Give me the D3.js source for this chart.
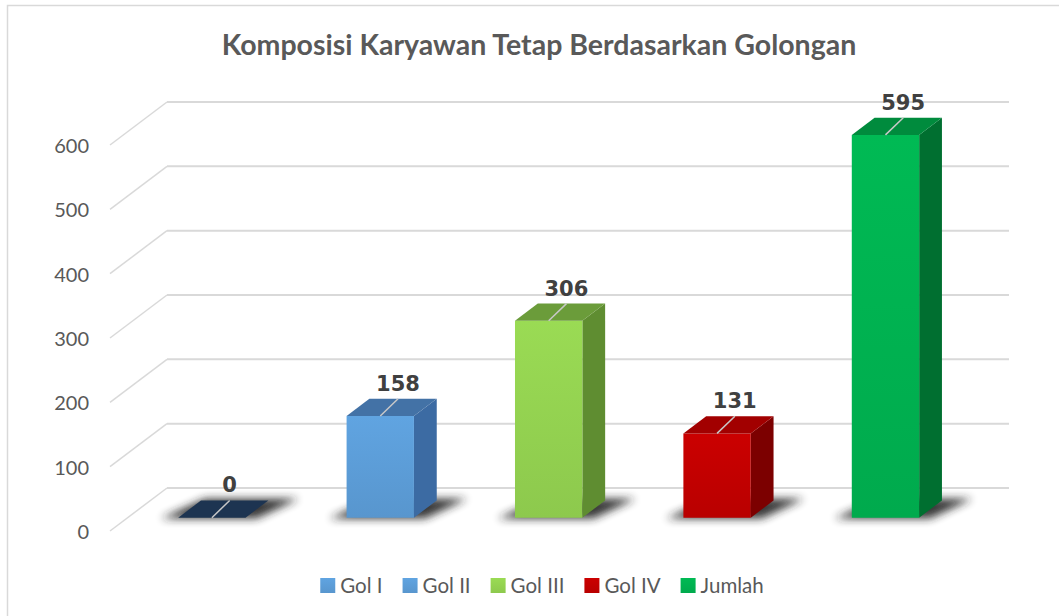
<!DOCTYPE html>
<html>
<head>
<meta charset="utf-8">
<script src="https://cdn.jsdelivr.net/npm/d3@7"></script>
<style>
  body { margin: 0; background: #fff; }
  svg { display: block; }
</style>
</head>
<body>
<svg id="chart" width="1059" height="616"></svg>
<script>
const categories = ['Gol I', 'Gol II', 'Gol III', 'Gol IV', 'Jumlah'];
const values = [0, 158, 306, 131, 595];
const yTicks = [0, 100, 200, 300, 400, 500, 600];
const frontColors = ['#5b9bd5', '#5b9bd5', '#92d050', '#c00000', '#00b050'];
const topColors = ['#1d3451', '#4372a6', '#6b9c3a', '#a20000', '#008b3d'];
const sideColors = ['#172b45', '#3c6ba3', '#5f8d31', '#7c0000', '#006f30'];
const titleText = 'Komposisi Karyawan Tetap Berdasarkan Golongan';

const svg = d3.select('#chart');

// oblique 3D: depth 0 = front plane, 1 = back wall
const depth = { dx: 57, dy: -43 };
const barZ = [0.31, 0.71];

const x = d3.scaleBand()
  .domain(categories)
  .range([110, 952])
  .paddingInner(0.6)
  .paddingOuter(0.3);
const y = d3.scaleLinear().domain([0, 600]).range([531, 145]);

const pt = (px, v, z) => [px + z * depth.dx, y(v) + z * depth.dy];
const poly = pts => pts.map(p => p.join(',')).join(' ');

const defs = svg.append('defs');
defs.append('filter').attr('id', 'blur').attr('x', '-30%').attr('y', '-100%')
  .attr('width', '160%').attr('height', '300%')
  .append('feGaussianBlur').attr('stdDeviation', 4);
frontColors.forEach((c, i) => {
  const g = defs.append('linearGradient').attr('id', 'front' + i)
    .attr('x1', 0).attr('y1', 0).attr('x2', 0).attr('y2', 1);
  g.append('stop').attr('offset', 0).attr('stop-color', d3.color(c).brighter(0.15));
  g.append('stop').attr('offset', 1).attr('stop-color', d3.color(c).darker(0.1));
});

// chart border
svg.append('rect')
  .attr('x', 7.5).attr('y', 5.5).attr('width', 1070).attr('height', 640)
  .attr('fill', '#fff').attr('stroke', '#d9d9d9').attr('stroke-width', 1.5);

// title
svg.append('text')
  .attr('x', 539).attr('y', 55)
  .attr('text-anchor', 'middle')
  .attr('font-family', 'Lato, sans-serif')
  .attr('font-weight', 'bold')
  .attr('font-size', 28.5)
  .attr('fill', '#595959')
  .text(titleText);

// gridlines: back wall + side wall
const [x0r, x1r] = x.range();
const grid = svg.append('g').attr('stroke', '#d9d9d9').attr('fill', 'none');
yTicks.forEach(v => {
  const a = pt(x0r, v, 0), b = pt(x0r, v, 1), c = pt(x1r, v, 1);
  grid.append('line').attr('x1', a[0]).attr('y1', a[1]).attr('x2', b[0]).attr('y2', b[1])
    .attr('stroke-width', 1.5);
  grid.append('line').attr('x1', b[0]).attr('y1', b[1]).attr('x2', c[0]).attr('y2', c[1])
    .attr('stroke-width', 2);
});

// y axis labels
svg.append('g')
  .selectAll('text')
  .data(yTicks)
  .join('text')
  .attr('x', 89)
  .attr('y', d => y(d) + 8)
  .attr('text-anchor', 'end')
  .attr('font-family', 'Lato, sans-serif')
  .attr('font-size', 20)
  .attr('fill', '#595959')
  .text(d => d);

const bars = categories.map((c, i) => ({
  cat: c, value: values[i],
  x0: x(c), x1: x(c) + x.bandwidth(), cx: x(c) + x.bandwidth() / 2, i
}));

// floor shadows
svg.append('g')
  .selectAll('polygon')
  .data(bars)
  .join('polygon')
  .attr('points', d => poly([
    pt(d.x0 - 16, 0, barZ[0] - 0.02),
    pt(d.x1 + 12, 0, barZ[0] - 0.02),
    pt(d.x1 + 28, 0, barZ[1] + 0.04),
    pt(d.x0 + 2, 0, barZ[1] + 0.04)
  ]))
  .attr('fill', '#222')
  .attr('opacity', 0.9)
  .attr('filter', 'url(#blur)');

const barG = svg.append('g')
  .selectAll('g')
  .data(bars)
  .join('g');

barG.append('polygon')
  .attr('points', d => poly([
    pt(d.x1, 0, barZ[0]), pt(d.x1, d.value, barZ[0]),
    pt(d.x1, d.value, barZ[1]), pt(d.x1, 0, barZ[1])
  ]))
  .attr('fill', d => sideColors[d.i]);

barG.append('polygon')
  .attr('points', d => poly([
    pt(d.x0, 0, barZ[0]), pt(d.x1, 0, barZ[0]),
    pt(d.x1, d.value, barZ[0]), pt(d.x0, d.value, barZ[0])
  ]))
  .attr('fill', d => `url(#front${d.i})`);

barG.append('polygon')
  .attr('points', d => poly([
    pt(d.x0, d.value, barZ[0]), pt(d.x1, d.value, barZ[0]),
    pt(d.x1, d.value, barZ[1]), pt(d.x0, d.value, barZ[1])
  ]))
  .attr('fill', d => topColors[d.i]);

// label leader lines on the top face
barG.append('line')
  .attr('x1', d => pt(d.cx, d.value, barZ[0])[0])
  .attr('y1', d => pt(d.cx, d.value, barZ[0])[1])
  .attr('x2', d => pt(d.cx - 5, d.value, barZ[1])[0])
  .attr('y2', d => pt(d.cx - 5, d.value, barZ[1])[1])
  .attr('stroke', '#c8c8c8')
  .attr('stroke-width', 1.5);

// data labels
barG.append('text')
  .attr('x', d => pt(d.cx, d.value, 0.62)[0])
  .attr('y', d => pt(d.cx, d.value, barZ[1])[1] - 8)
  .attr('text-anchor', 'middle')
  .attr('font-family', '"DejaVu Sans", sans-serif')
  .attr('font-weight', 'bold')
  .attr('font-size', 21)
  .attr('fill', '#404040')
  .text(d => d.value);

// legend
const legend = svg.append('g');
const items = legend.selectAll('g')
  .data(categories)
  .join('g');
items.append('rect')
  .attr('y', -7).attr('width', 15).attr('height', 15)
  .attr('fill', (d, i) => `url(#front${i})`);
items.append('text')
  .attr('x', 20).attr('y', 7.5)
  .attr('font-family', 'Lato, sans-serif')
  .attr('font-size', 20.5)
  .attr('fill', '#595959')
  .text(d => d);
let cursor = 0;
items.each(function () {
  const w = 20 + d3.select(this).select('text').node().getComputedTextLength();
  d3.select(this).attr('transform', `translate(${cursor},0)`);
  cursor += w + 20;
});
const legendW = cursor - 20;
legend.attr('transform', `translate(${542 - legendW / 2},585)`);
</script>
</body>
</html>
